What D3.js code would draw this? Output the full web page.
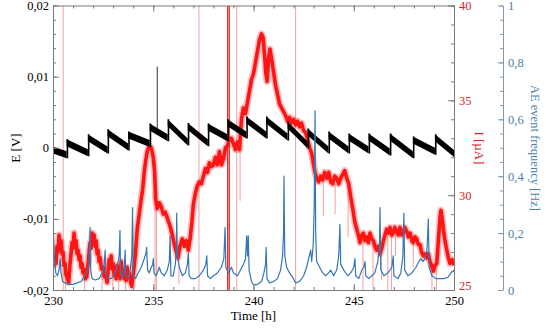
<!DOCTYPE html>
<html><head><meta charset="utf-8">
<script src="https://cdn.jsdelivr.net/npm/d3@7"></script>
<style>
html,body{margin:0;padding:0;background:#fff;}
svg{display:block;}
</style></head><body>
<svg id="chart" width="546" height="332"></svg>
<script>
// ---- axis ticks and labels ----
const timeTicks = [230, 235, 240, 245, 250];
const timeTickLabels = ["230", "235", "240", "245", "250"];
const eTicks = [-0.02, -0.01, 0, 0.01, 0.02];
const eTickLabels = ["-0,02", "-0,01", "0", "0,01", "0,02"];
const iTicks = [25, 30, 35, 40];
const iTickLabels = ["25", "30", "35", "40"];
const aeTicks = [0, 0.2, 0.4, 0.6, 0.8, 1];
const aeTickLabels = ["0", "0,2", "0,4", "0,6", "0,8", "1"];

// ---- electrode potential E [V]: one sawtooth cycle per row
// [start time h, value after jump, end time h, value before next jump]
const potentialCycles = [
  [230.00, -0.0003, 230.68, -0.0010],
  [230.68, 0.0007, 231.74, -0.0007],
  [231.74, 0.0014, 232.72, -0.0003],
  [232.72, 0.0021, 233.75, 0.0001],
  [233.75, 0.0018, 234.82, 0.0006],
  [234.82, 0.0029, 235.72, 0.0014],
  [235.72, 0.0035, 236.72, 0.0008],
  [236.72, 0.0030, 237.72, 0.0007],
  [237.72, 0.0029, 238.70, 0.0014],
  [238.70, 0.0035, 239.64, 0.0018],
  [239.64, 0.0039, 240.63, 0.0018],
  [240.63, 0.0039, 241.70, 0.0015],
  [241.70, 0.0032, 242.70, 0.0004],
  [242.70, 0.0022, 243.74, -0.0003],
  [243.74, 0.0018, 244.74, -0.0003],
  [244.74, 0.0015, 245.74, -0.0003],
  [245.74, 0.0015, 246.80, -0.0006],
  [246.80, 0.0015, 247.95, -0.0010],
  [247.95, 0.0011, 249.05, -0.0005],
  [249.05, 0.0014, 250.00, -0.0008]
];
// single transient in E: [time, from, to]
const potentialSpike = [[235.20, 0.0025, 0.0114]];

// ---- current I [µA]: [time h, µA] ----
const current = [
  [230.00, 26.9], [230.05, 26.3], [230.10, 26.8], [230.15, 26.4], [230.20, 27.3],
  [230.25, 27.0], [230.30, 27.9], [230.35, 27.3], [230.40, 27.6], [230.45, 26.9],
  [230.50, 27.0], [230.55, 26.3], [230.60, 26.4], [230.65, 25.8], [230.70, 25.7],
  [230.78, 25.4], [230.85, 26.4], [230.90, 26.9], [230.95, 27.5], [231.00, 27.2],
  [231.05, 28.0], [231.10, 27.4], [231.15, 27.6], [231.20, 26.9], [231.25, 27.1],
  [231.30, 26.6], [231.35, 26.8], [231.40, 26.2], [231.45, 26.4], [231.50, 25.9],
  [231.55, 26.1], [231.62, 25.6], [231.68, 25.7], [231.76, 26.5], [231.80, 27.0],
  [231.85, 27.5], [231.90, 27.2], [231.95, 28.0], [232.00, 27.6], [232.05, 27.9],
  [232.10, 27.3], [232.15, 27.6], [232.20, 26.9], [232.25, 27.1], [232.30, 26.5],
  [232.35, 26.7], [232.42, 26.1], [232.50, 26.2], [232.56, 25.7], [232.62, 25.8],
  [232.70, 25.4], [232.76, 26.2], [232.80, 26.6], [232.85, 26.2], [232.90, 26.8],
  [232.95, 26.1], [233.00, 26.4], [233.05, 25.8], [233.10, 26.0], [233.15, 25.6],
  [233.20, 26.3], [233.25, 25.8], [233.30, 26.0], [233.35, 25.6], [233.40, 26.5],
  [233.45, 25.9], [233.50, 26.1], [233.55, 25.6], [233.60, 25.8], [233.65, 25.5],
  [233.70, 26.2], [233.75, 25.7], [233.80, 25.9], [233.87, 25.4], [233.93, 25.2],
  [234.02, 26.0], [234.10, 26.8], [234.20, 28.2], [234.30, 29.0], [234.40, 29.8],
  [234.47, 30.3], [234.55, 31.2], [234.62, 31.8], [234.70, 32.3], [234.80, 32.6],
  [234.90, 32.5], [235.00, 32.0], [235.07, 31.2], [235.12, 29.8], [235.20, 29.3],
  [235.30, 29.6], [235.40, 29.4], [235.50, 29.0], [235.60, 29.1], [235.70, 28.8],
  [235.83, 28.4], [235.95, 27.9], [236.05, 27.4], [236.15, 27.0], [236.23, 26.7],
  [236.33, 27.3], [236.45, 27.7], [236.55, 27.3], [236.65, 27.6], [236.75, 27.1],
  [236.85, 27.8], [236.93, 28.6], [237.00, 29.5], [237.10, 30.1], [237.20, 30.5],
  [237.30, 30.7], [237.40, 30.6], [237.50, 31.0], [237.60, 31.4], [237.70, 31.2],
  [237.80, 31.7], [237.90, 31.5], [238.00, 31.6], [238.10, 32.0], [238.20, 31.6],
  [238.30, 32.3], [238.40, 31.6], [238.50, 31.9], [238.60, 32.5], [238.70, 32.6],
  [238.80, 33.0], [238.90, 33.0], [239.00, 32.7], [239.10, 32.4], [239.20, 32.8],
  [239.30, 32.4], [239.40, 34.0], [239.50, 34.6], [239.60, 34.3], [239.70, 34.9],
  [239.80, 35.5], [239.90, 36.1], [240.00, 36.4], [240.10, 37.0], [240.20, 37.6],
  [240.30, 38.2], [240.40, 38.5], [240.48, 38.3], [240.55, 37.4], [240.62, 36.4],
  [240.68, 36.0], [240.75, 37.2], [240.82, 37.7], [240.90, 37.2], [241.00, 36.5],
  [241.10, 35.8], [241.20, 35.3], [241.30, 34.8], [241.40, 34.6], [241.50, 34.4],
  [241.60, 34.2], [241.70, 33.9], [241.80, 34.1], [241.90, 33.8], [242.00, 34.0],
  [242.10, 33.7], [242.20, 33.9], [242.30, 33.6], [242.40, 33.8], [242.50, 33.4],
  [242.60, 33.3], [242.70, 32.9], [242.80, 32.5], [242.90, 32.2], [243.00, 31.6],
  [243.07, 31.2], [243.15, 30.9], [243.25, 30.7], [243.35, 31.0], [243.45, 30.8],
  [243.55, 31.2], [243.65, 30.9], [243.75, 31.2], [243.85, 30.7], [243.95, 30.6],
  [244.05, 31.0], [244.15, 30.9], [244.25, 30.6], [244.35, 30.9], [244.45, 31.1],
  [244.55, 31.3], [244.65, 30.9], [244.75, 30.6], [244.85, 29.9], [244.95, 29.3],
  [245.05, 28.6], [245.15, 28.2], [245.25, 27.8], [245.31, 27.5], [245.40, 27.9],
  [245.48, 28.0], [245.56, 27.6], [245.65, 27.8], [245.73, 27.5], [245.81, 28.0],
  [245.90, 27.7], [245.98, 27.6], [246.06, 27.3], [246.14, 27.1], [246.22, 27.3],
  [246.31, 26.9], [246.40, 27.2], [246.48, 27.6], [246.56, 27.9], [246.64, 28.2],
  [246.72, 28.0], [246.81, 28.3], [246.90, 27.9], [246.97, 28.0], [247.05, 28.3],
  [247.14, 28.1], [247.22, 27.9], [247.31, 28.3], [247.40, 27.9], [247.47, 28.0],
  [247.55, 28.3], [247.64, 28.1], [247.72, 27.8], [247.81, 28.0], [247.90, 27.6],
  [247.97, 27.5], [248.05, 27.8], [248.14, 27.7], [248.22, 27.4], [248.30, 27.4],
  [248.38, 27.0], [248.47, 26.8], [248.55, 26.9], [248.64, 26.7], [248.72, 26.9],
  [248.80, 26.5], [248.88, 26.3], [248.97, 26.0], [249.05, 26.3], [249.14, 26.4],
  [249.22, 27.6], [249.30, 28.8], [249.35, 29.2], [249.42, 28.7], [249.47, 28.2],
  [249.55, 27.6], [249.64, 27.1], [249.72, 26.7], [249.80, 26.4], [249.90, 26.6],
  [250.00, 26.3]
];
// current bursts running off the top of the scale [time h]
const currentBursts = [230.51, 237.28, 239.16, 242.10];
const currentBurstsStrong = [238.71, 238.79];
// brief current dropouts: [time h, from µA, to µA]
const currentDrops = [
  [230.62, 26.4, 25], [231.58, 26.0, 25], [232.45, 26.2, 25], [232.98, 26.2, 25],
  [233.28, 26.0, 25], [233.62, 25.8, 25],
  [235.09, 31.8, 25], [235.16, 29.5, 25], [236.28, 27.2, 25.3], [239.33, 32.4, 29.7],
  [243.48, 30.8, 28.9], [244.07, 30.6, 29.0], [244.72, 30.6, 27.8], [245.46, 28.0, 25],
  [245.96, 27.6, 25], [246.38, 27.0, 25.5], [246.70, 28.0, 25], [246.88, 28.2, 25],
  [247.08, 28.2, 26.8], [247.97, 27.5, 26.2], [248.90, 26.4, 25], [249.12, 26.4, 25]
];

// ---- acoustic emission event frequency [time h, Hz] ----
const aeRate = [
  [230.00, 0.26], [230.04, 0.17], [230.08, 0.10], [230.14, 0.06], [230.22, 0.05],
  [230.30, 0.07], [230.36, 0.11], [230.40, 0.06], [230.48, 0.03], [230.60, 0.025],
  [230.80, 0.02], [231.00, 0.02], [231.20, 0.025], [231.40, 0.03], [231.55, 0.045],
  [231.70, 0.065], [231.80, 0.09], [231.85, 0.22], [231.88, 0.07], [231.95, 0.04],
  [232.10, 0.035], [232.30, 0.04], [232.45, 0.06], [232.55, 0.09], [232.60, 0.14],
  [232.63, 0.06], [232.75, 0.04], [232.90, 0.04], [233.05, 0.05], [233.20, 0.08],
  [233.30, 0.12], [233.34, 0.21], [233.37, 0.06], [233.45, 0.04], [233.55, 0.07],
  [233.60, 0.14], [233.63, 0.05], [233.75, 0.04], [233.85, 0.07], [233.93, 0.12],
  [233.97, 0.29], [234.00, 0.05], [234.10, 0.04], [234.25, 0.06], [234.40, 0.08],
  [234.55, 0.11], [234.64, 0.13], [234.67, 0.15], [234.72, 0.07], [234.80, 0.06],
  [234.90, 0.08], [234.97, 0.09], [235.00, 0.11], [235.04, 0.06], [235.15, 0.05],
  [235.30, 0.08], [235.40, 0.06], [235.55, 0.05], [235.70, 0.07], [235.80, 0.10],
  [235.84, 0.19], [235.88, 0.05], [236.00, 0.05], [236.10, 0.09], [236.15, 0.14],
  [236.17, 0.27], [236.20, 0.12], [236.30, 0.08], [236.45, 0.05], [236.60, 0.06],
  [236.70, 0.09], [236.75, 0.13], [236.79, 0.05], [236.90, 0.04], [237.10, 0.04],
  [237.30, 0.05], [237.50, 0.07], [237.62, 0.09], [237.67, 0.12], [237.71, 0.05],
  [237.85, 0.04], [238.00, 0.05], [238.20, 0.06], [238.40, 0.08], [238.52, 0.11],
  [238.58, 0.22], [238.62, 0.08], [238.75, 0.06], [238.90, 0.08], [239.00, 0.06],
  [239.20, 0.05], [239.35, 0.07], [239.50, 0.09], [239.60, 0.11], [239.66, 0.19],
  [239.70, 0.12], [239.74, 0.19], [239.78, 0.07], [239.90, 0.03], [240.00, 0.018],
  [240.20, 0.02], [240.40, 0.03], [240.52, 0.06], [240.60, 0.09], [240.63, 0.15],
  [240.67, 0.04], [240.80, 0.025], [241.00, 0.03], [241.20, 0.04], [241.35, 0.07],
  [241.45, 0.12], [241.50, 0.20], [241.52, 0.40], [241.56, 0.12], [241.65, 0.08],
  [241.80, 0.06], [241.95, 0.045], [242.10, 0.025], [242.30, 0.03], [242.50, 0.05],
  [242.65, 0.08], [242.75, 0.11], [242.85, 0.14], [242.90, 0.10], [242.98, 0.16],
  [243.03, 0.30], [243.07, 0.63], [243.10, 0.20], [243.15, 0.10], [243.30, 0.08],
  [243.45, 0.06], [243.60, 0.05], [243.75, 0.06], [243.85, 0.07], [244.00, 0.05],
  [244.15, 0.07], [244.25, 0.12], [244.31, 0.23], [244.35, 0.09], [244.50, 0.07],
  [244.70, 0.05], [244.85, 0.06], [245.00, 0.08], [245.06, 0.11], [245.10, 0.05],
  [245.25, 0.04], [245.40, 0.07], [245.50, 0.08], [245.56, 0.10], [245.60, 0.05],
  [245.75, 0.04], [245.90, 0.05], [246.05, 0.06], [246.20, 0.10], [246.28, 0.15],
  [246.31, 0.29], [246.35, 0.07], [246.50, 0.05], [246.70, 0.06], [246.90, 0.08],
  [246.97, 0.12], [247.00, 0.05], [247.20, 0.04], [247.35, 0.06], [247.45, 0.12],
  [247.50, 0.27], [247.54, 0.07], [247.70, 0.05], [247.90, 0.06], [248.10, 0.08],
  [248.25, 0.10], [248.35, 0.11], [248.45, 0.10], [248.55, 0.11], [248.65, 0.14],
  [248.72, 0.25], [248.76, 0.08], [248.90, 0.05], [249.10, 0.04], [249.30, 0.04],
  [249.50, 0.04], [249.70, 0.045], [249.85, 0.06], [250.00, 0.07]
];

// ---- layout ----
const plot = { left: 53, right: 454, top: 5.5, bottom: 290 };
const aeAxisX = 503;
const serif = '"Liberation Serif","Times New Roman",serif';
const gray = "#7a7a7a";
const red = "#ff1414";
const redText = "#d42424";
const blue = "#3577b5";
const blueText = "#4a7faa";
const eBandHalf = 3.5; // half height of the noisy E band, px

const x = d3.scaleLinear().domain([230, 250]).range([plot.left, plot.right]);
const yE = d3.scaleLinear().domain([-0.02, 0.02]).range([plot.bottom, plot.top]);
const yI = d3.scaleLinear().domain([25, 40]).range([plot.bottom, plot.top]);
const yAE = d3.scaleLinear().domain([0, 1]).range([plot.bottom, plot.top]);

const svg = d3.select("#chart");
svg.append("rect").attr("width", 546).attr("height", 332).attr("fill", "#fff");

svg.append("clipPath").attr("id", "plotClip")
  .append("rect")
  .attr("x", plot.left).attr("y", plot.top)
  .attr("width", plot.right - plot.left).attr("height", plot.bottom - plot.top);

const g = svg.append("g").attr("clip-path", "url(#plotClip)");

// current bursts: full-height verticals
g.selectAll("line.burst").data(currentBursts).join("line")
  .attr("class", "burst")
  .attr("x1", d => x(d)).attr("x2", d => x(d))
  .attr("y1", plot.top).attr("y2", plot.bottom)
  .attr("stroke", "#f4a2a2").attr("stroke-width", 1);
g.selectAll("line.burst2").data(currentBurstsStrong).join("line")
  .attr("class", "burst2")
  .attr("x1", d => x(d)).attr("x2", d => x(d))
  .attr("y1", plot.top).attr("y2", plot.bottom)
  .attr("stroke", "#e42a2a").attr("stroke-width", 1.3);

// current dropouts
g.selectAll("line.drop").data(currentDrops).join("line")
  .attr("class", "drop")
  .attr("x1", d => x(d[0])).attr("x2", d => x(d[0]))
  .attr("y1", d => yI(d[1])).attr("y2", d => yI(d[2]))
  .attr("stroke", "#f4a0a0").attr("stroke-width", 1);

// current trace: noisy fringe plus solid core
const lineI = d3.line().x(d => x(d[0])).y(d => yI(d[1]));
g.append("path").datum(current).attr("d", lineI)
  .attr("fill", "none").attr("stroke", "#ff4040").attr("stroke-opacity", 0.35)
  .attr("stroke-width", 7).attr("stroke-linejoin", "round");
g.append("path").datum(current).attr("d", lineI)
  .attr("fill", "none").attr("stroke", red)
  .attr("stroke-width", 3.6).attr("stroke-linejoin", "round");

// potential sawtooth: each cycle is a noisy band with vertical edges,
// joined to the previous cycle by the step-up
g.selectAll("line.espike").data(potentialSpike).join("line")
  .attr("class", "espike")
  .attr("x1", d => x(d[0])).attr("x2", d => x(d[0]))
  .attr("y1", d => yE(d[1])).attr("y2", d => yE(d[2]))
  .attr("stroke", "#333").attr("stroke-width", 1);
const eBand = d3.area()
  .x(d => x(d[0]))
  .y0(d => yE(d[1]) + eBandHalf)
  .y1(d => yE(d[1]) - eBandHalf);
g.selectAll("path.ecycle").data(potentialCycles).join("path")
  .attr("class", "ecycle")
  .attr("d", d => eBand([[d[0], d[1]], [d[2], d[3]]]))
  .attr("fill", "#000");
g.selectAll("line.estep").data(potentialCycles.slice(1)).join("line")
  .attr("class", "estep")
  .attr("x1", d => x(d[0]) + 0.8).attr("x2", d => x(d[0]) + 0.8)
  .attr("y1", (d, i) => yE(potentialCycles[i][3]) + eBandHalf)
  .attr("y2", d => yE(d[1]) - eBandHalf)
  .attr("stroke", "#000").attr("stroke-width", 1.6);

// AE event frequency
const lineAE = d3.line().x(d => x(d[0])).y(d => yAE(d[1]));
g.append("path").datum(aeRate).attr("d", lineAE)
  .attr("fill", "none").attr("stroke", blue)
  .attr("stroke-width", 1.2).attr("stroke-linejoin", "round");

// ---- axes ----
function styleAxis(sel, lineColor, textColor) {
  sel.attr("font-family", serif).attr("font-size", 12.5);
  sel.select(".domain").attr("stroke", lineColor);
  sel.selectAll(".tick line").attr("stroke", lineColor);
  sel.selectAll(".tick text").attr("fill", textColor);
}
function minorOnly(sel) {
  sel.select(".domain").remove();
}
const labelFrom = (labels, ticks) => d => labels[ticks.indexOf(d)];

// bottom
svg.append("g").attr("transform", `translate(0,${plot.bottom})`)
  .call(d3.axisBottom(x).tickValues(d3.range(230, 251, 1)).tickFormat("").tickSize(-3).tickSizeOuter(0))
  .call(minorOnly).call(s => styleAxis(s, gray, "#000"));
svg.append("g").attr("transform", `translate(0,${plot.bottom})`)
  .call(d3.axisBottom(x).tickValues(timeTicks).tickFormat(labelFrom(timeTickLabels, timeTicks))
    .tickSize(-6).tickSizeOuter(0).tickPadding(6))
  .call(s => styleAxis(s, gray, "#000"));
// top mirror
svg.append("g").attr("transform", `translate(0,${plot.top})`)
  .call(d3.axisTop(x).tickValues(d3.range(230, 251, 1)).tickFormat("").tickSize(-3).tickSizeOuter(0))
  .call(minorOnly).call(s => styleAxis(s, gray, "#000"));
svg.append("g").attr("transform", `translate(0,${plot.top})`)
  .call(d3.axisTop(x).tickValues(timeTicks).tickFormat("").tickSize(-6).tickSizeOuter(0))
  .call(s => styleAxis(s, gray, "#000"));

// left E
svg.append("g").attr("transform", `translate(${plot.left},0)`)
  .call(d3.axisLeft(yE).tickValues(d3.range(-20, 21, 2).map(v => v / 1000)).tickFormat("").tickSize(-3).tickSizeOuter(0))
  .call(minorOnly).call(s => styleAxis(s, gray, "#000"));
svg.append("g").attr("transform", `translate(${plot.left},0)`)
  .call(d3.axisLeft(yE).tickValues(eTicks).tickFormat(labelFrom(eTickLabels, eTicks))
    .tickSize(-6).tickSizeOuter(0).tickPadding(4))
  .call(s => styleAxis(s, gray, "#000"));

// right I
svg.append("g").attr("transform", `translate(${plot.right},0)`)
  .call(d3.axisRight(yI).tickValues(d3.range(25, 41, 1)).tickFormat("").tickSize(-3).tickSizeOuter(0))
  .call(minorOnly).call(s => styleAxis(s, gray, redText));
const iAxis = svg.append("g").attr("transform", `translate(${plot.right},0)`)
  .call(d3.axisRight(yI).tickValues(iTicks).tickFormat(labelFrom(iTickLabels, iTicks))
    .tickSize(-6).tickSizeOuter(0).tickPadding(5))
  .call(s => styleAxis(s, gray, redText));
// lift the bottom current label clear of the last time label
iAxis.selectAll(".tick text").filter(d => d === iTicks[0]).attr("dy", "-0.05em");

// far right AE
svg.append("g").attr("transform", `translate(${aeAxisX},0)`)
  .call(d3.axisRight(yAE).tickValues(d3.range(0, 21, 1).map(v => v / 20)).tickFormat("").tickSize(-3).tickSizeOuter(0))
  .call(minorOnly).call(s => styleAxis(s, "#8298ad", blueText));
svg.append("g").attr("transform", `translate(${aeAxisX},0)`)
  .call(d3.axisRight(yAE).tickValues(aeTicks).tickFormat(labelFrom(aeTickLabels, aeTicks))
    .tickSize(-5).tickSizeOuter(0).tickPadding(5))
  .call(s => styleAxis(s, "#8298ad", blueText));

// ---- axis titles ----
svg.append("text").attr("transform", "translate(15,148) rotate(-90)")
  .attr("text-anchor", "middle").attr("dominant-baseline", "central")
  .attr("font-family", serif).attr("font-size", 13).attr("fill", "#000")
  .text("E [V]");
svg.append("text").attr("x", (plot.left + plot.right) / 2).attr("y", 320)
  .attr("text-anchor", "middle")
  .attr("font-family", serif).attr("font-size", 13).attr("fill", "#000")
  .text("Time [h]");
svg.append("text").attr("transform", "translate(479,148) rotate(90)")
  .attr("text-anchor", "middle").attr("dominant-baseline", "central")
  .attr("font-family", serif).attr("font-size", 13).attr("fill", redText)
  .text("I [µA]");
svg.append("text").attr("transform", "translate(535,148) rotate(90)")
  .attr("text-anchor", "middle").attr("dominant-baseline", "central")
  .attr("font-family", serif).attr("font-size", 12.5).attr("fill", blueText)
  .text("AE event frequency [Hz]");
</script>
</body></html>
